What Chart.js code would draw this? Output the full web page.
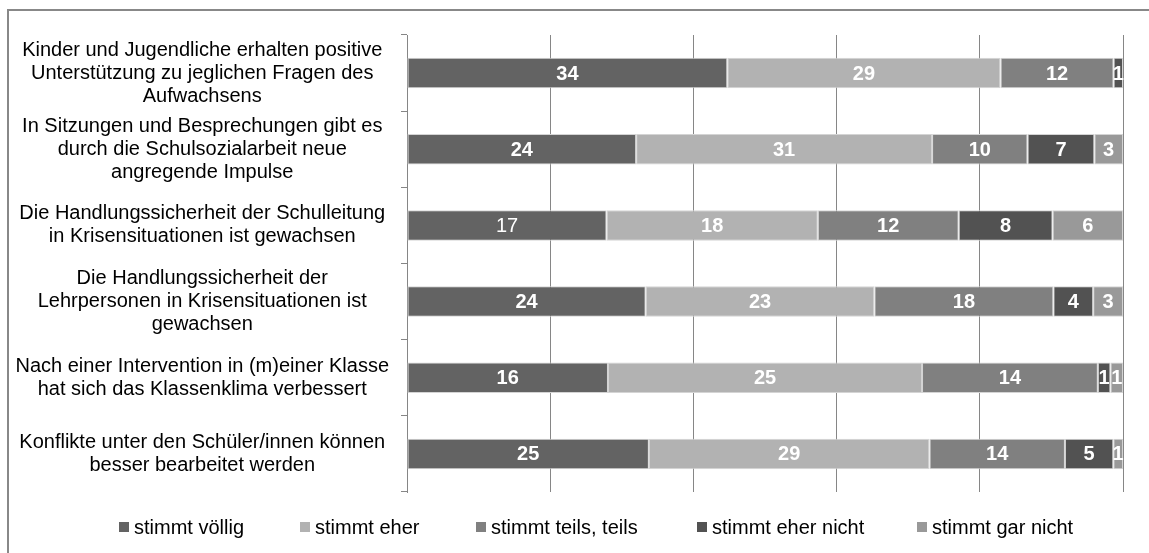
<!DOCTYPE html>
<html>
<head>
<meta charset="utf-8">
<script src="https://cdn.jsdelivr.net/npm/chart.js@4/dist/chart.umd.min.js"></script>
<style>
  body { margin: 0; background: #fff; font-family: "Liberation Sans", Arial, sans-serif; }
  #wrap { position: relative; width: 1149px; height: 553px; overflow: hidden; }
  #frame { position: absolute; left: 7px; top: 9px; width: 1200px; height: 600px;
           border-left: 2px solid #888; border-top: 2px solid #888; box-sizing: border-box; }
  #chart { position: absolute; left: 0; top: 0; }
  #legend { position: absolute; left: 119px; top: 515px; height: 24px; display: flex;
            font-size: 20px; line-height: 24px; color: #000; }
  #legend .item { display: flex; align-items: center; white-space: nowrap; }
  #legend .item:nth-child(1) { width: 181px; }
  #legend .item:nth-child(2) { width: 176px; }
  #legend .item:nth-child(3) { width: 221px; }
  #legend .item:nth-child(4) { width: 220px; }
  #legend .box { width: 10px; height: 10px; margin-right: 5px; }
</style>
</head>
<body>
<div id="wrap">
  <div id="frame"></div>
  <canvas id="chart" width="1149" height="553"></canvas>
  <div id="legend"></div>
</div>
<script>
const statements = [
  ["Kinder und Jugendliche erhalten positive", "Unterstützung zu jeglichen Fragen des", "Aufwachsens"],
  ["In Sitzungen und Besprechungen gibt es", "durch die Schulsozialarbeit neue", "angregende Impulse"],
  ["Die Handlungssicherheit der Schulleitung", "in Krisensituationen ist gewachsen"],
  ["Die Handlungssicherheit der", "Lehrpersonen in Krisensituationen ist", "gewachsen"],
  ["Nach einer Intervention in (m)einer Klasse", "hat sich das Klassenklima verbessert"],
  ["Konflikte unter den Schüler/innen können", "besser bearbeitet werden"]
];

const answers = ["stimmt völlig", "stimmt eher", "stimmt teils, teils", "stimmt eher nicht", "stimmt gar nicht"];
const colors = ["#636363", "#b2b2b2", "#808080", "#525252", "#999999"];

// counts per answer, one value per statement
const voellig   = [34, 24, 17, 24, 16, 25];
const eher      = [29, 31, 18, 23, 25, 29];
const teils     = [12, 10, 12, 18, 14, 14];
const eherNicht = [1, 7, 8, 4, 1, 5];
const garNicht  = [0, 3, 6, 3, 1, 1];

const counts = [voellig, eher, teils, eherNicht, garNicht];
const totals = statements.map((_, i) => counts.reduce((s, c) => s + c[i], 0));

// the "17" label is drawn in regular weight in the original
const plainCell = { ds: 0, row: 2 };

const barLabels = {
  id: "barLabels",
  afterDatasetsDraw(chart) {
    const ctx = chart.ctx;
    ctx.save();
    ctx.fillStyle = "#fff";
    ctx.textAlign = "center";
    ctx.textBaseline = "middle";
    chart.data.datasets.forEach((ds, d) => {
      chart.getDatasetMeta(d).data.forEach((bar, i) => {
        const v = counts[d][i];
        if (!v) return;
        const bold = !(d === plainCell.ds && i === plainCell.row);
        ctx.font = (bold ? "bold " : "") + "20px 'Liberation Sans', Arial, sans-serif";
        const p = bar.getCenterPoint();
        ctx.fillText(String(v), p.x, p.y + 1);
      });
    });
    ctx.restore();
  }
};

const chart = new Chart(document.getElementById("chart"), {
  type: "bar",
  data: {
    labels: statements,
    datasets: answers.map((a, d) => ({
      label: a,
      data: counts[d].map((v, i) => v / totals[i] * 100),
      backgroundColor: colors[d],
      borderColor: "#d4d4d4",
      borderWidth: 1,
      borderSkipped: false,
      categoryPercentage: 1,
      barPercentage: 0.4
    }))
  },
  options: {
    indexAxis: "y",
    responsive: false,
    animation: false,
    devicePixelRatio: 1,
    layout: { padding: { left: 7, right: 26, top: 30, bottom: 61 } },
    plugins: { legend: { display: false }, tooltip: { enabled: false } },
    scales: {
      x: {
        stacked: true,
        min: 0,
        max: 100,
        ticks: { display: false, stepSize: 20 },
        grid: { color: "#868686", drawTicks: false },
        border: { display: false },
        afterFit: s => { s.height = 0; }
      },
      y: {
        stacked: true,
        ticks: {
          color: "#000",
          crossAlign: "center",
          padding: 12,
          font: { family: "'Liberation Sans', Arial, sans-serif", size: 20, lineHeight: 1.15 }
        },
        grid: { drawOnChartArea: false, color: "#868686", tickLength: 6, offset: true },
        border: { display: true, color: "#868686" },
        afterFit: s => { s.width = 400; }
      }
    }
  },
  plugins: [barLabels]
});

const legend = document.getElementById("legend");
chart.data.datasets.forEach(ds => {
  const item = document.createElement("div");
  item.className = "item";
  const box = document.createElement("span");
  box.className = "box";
  box.style.background = ds.backgroundColor;
  item.appendChild(box);
  item.appendChild(document.createTextNode(ds.label));
  legend.appendChild(item);
});
</script>
</body>
</html>
